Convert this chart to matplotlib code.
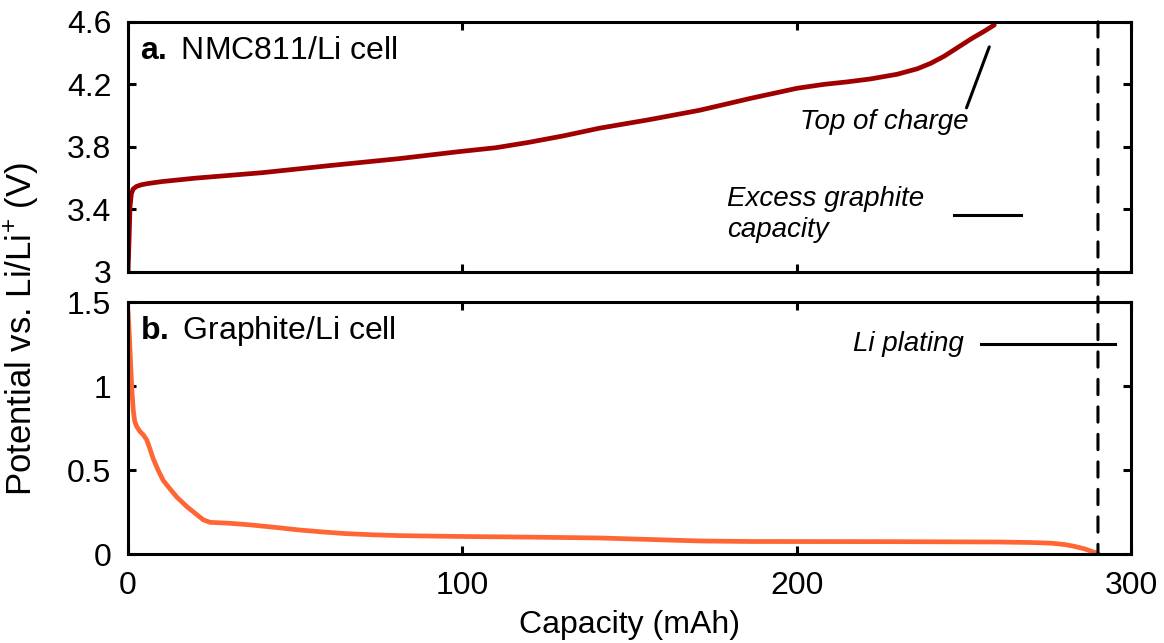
import matplotlib.pyplot as plt
from matplotlib.patches import ConnectionPatch

plt.rcParams['font.family'] = ['Liberation Sans', 'DejaVu Sans']
plt.rcParams['font.size'] = 23
plt.rcParams['mathtext.fontset'] = 'custom'
plt.rcParams['mathtext.rm'] = 'Liberation Sans'
plt.rcParams['mathtext.bf'] = 'Liberation Sans:bold'
plt.rcParams['mathtext.it'] = 'Liberation Sans:italic'

# NMC811/Li charge curve
nmc_cap = [0, 0.3, 0.6, 1.0, 1.5, 2.5, 4, 6, 10, 20, 40, 60, 81, 99, 110, 120, 130, 141, 156, 171, 186, 200,
           208, 215, 222, 230, 236, 240, 244, 248, 252, 256, 259]
nmc_v = [3.0, 3.2, 3.42, 3.5, 3.53, 3.547, 3.558, 3.566, 3.578, 3.6, 3.635, 3.68, 3.725, 3.77, 3.795, 3.83, 3.87,
         3.92, 3.975, 4.035, 4.11, 4.175, 4.2, 4.216, 4.235, 4.265, 4.3, 4.335, 4.38, 4.435, 4.49, 4.54, 4.58]

# graphite/Li lithiation curve
gr_cap = [0, 0.4, 0.8, 1.2, 1.6, 2.0, 2.6, 3.6, 4.6, 5.6, 6.5, 7.5, 9, 10.5, 12.5, 14.6, 17.5, 20.6, 22.5, 24.5,
          30, 36.5, 44, 51, 58, 65, 73, 81, 99, 120, 141, 156, 171, 186, 230, 260, 270, 276, 280, 283, 286, 288, 290]
gr_v = [1.45, 1.3, 1.12, 0.96, 0.85, 0.79, 0.76, 0.73, 0.71, 0.68, 0.63, 0.57, 0.5, 0.44, 0.39, 0.34, 0.285, 0.235,
        0.205, 0.19, 0.185, 0.175, 0.16, 0.145, 0.133, 0.123, 0.116, 0.111, 0.106, 0.102, 0.097, 0.088, 0.079, 0.076,
        0.075, 0.073, 0.07, 0.066, 0.058, 0.047, 0.032, 0.018, 0.004]

excess_cap = 290

fig = plt.figure(figsize=(11.64, 6.43), dpi=100)
ax1 = fig.add_axes([0.11, 0.577, 0.862, 0.389])
ax2 = fig.add_axes([0.11, 0.138, 0.862, 0.392])

ax1.plot(nmc_cap, nmc_v, color='#a00000', lw=3.4, solid_capstyle='round')
ax2.plot(gr_cap, gr_v, color='#ff6633', lw=3.4, solid_capstyle='round')

ax1.set_xlim(0, 300)
ax1.set_ylim(3, 4.6)
ax1.set_yticks([3, 3.4, 3.8, 4.2, 4.6])
ax1.set_yticklabels(['3', '3.4', '3.8', '4.2', '4.6'])
ax1.set_xticks([0, 100, 200, 300])
ax1.set_xticklabels([])

ax2.set_xlim(0, 300)
ax2.set_ylim(0, 1.5)
ax2.set_yticks([0, 0.5, 1, 1.5])
ax2.set_yticklabels(['0', '0.5', '1', '1.5'])
ax2.set_xticks([0, 100, 200, 300])

for ax in (ax1, ax2):
    for s in ax.spines.values():
        s.set_linewidth(2.2)
    ax.tick_params(direction='in', length=6, width=2.2, top=True, right=True)
    ax.tick_params(axis='y', pad=12)
    ax.tick_params(axis='x', pad=12)

fig.text(0.019, 0.488, 'Potential vs. Li/Li$^{+}$ (V)', rotation=90, ha='center', va='center', fontsize=25)
fig.text(0.541, 0.028, 'Capacity (mAh)', ha='center', va='center')

ax1.text(0.012, 0.885, r'$\mathbf{a.}$ NMC811/Li cell', transform=ax1.transAxes, va='center')
ax2.text(0.012, 0.885, r'$\mathbf{b.}$ Graphite/Li cell', transform=ax2.transAxes, va='center')

# dashed line spanning both panels
con = ConnectionPatch(xyA=(excess_cap, 4.6), coordsA=ax1.transData,
                      xyB=(excess_cap, 0), coordsB=ax2.transData,
                      color='black', lw=2.2, ls=(0, (5, 4)))
fig.add_artist(con)

ax1.annotate('', xy=(257.5, 4.44), xytext=(250.7, 4.05),
             arrowprops=dict(arrowstyle='-', lw=2.2, color='black', shrinkA=0, shrinkB=0))
ax1.text(226, 3.96, 'Top of charge', style='italic', ha='center', va='center', fontsize=20)
ax1.text(179, 3.365, 'Excess graphite\ncapacity', style='italic', ha='left', va='center',
         linespacing=1.25, fontsize=20)
ax1.plot([247, 267], [3.365, 3.365], color='black', lw=2.2)

ax2.text(250, 1.25, 'Li plating', style='italic', ha='right', va='center', fontsize=20)
ax2.plot([255, 295], [1.25, 1.25], color='black', lw=2.2, clip_on=False)

fig.savefig('out.png', dpi=100)
